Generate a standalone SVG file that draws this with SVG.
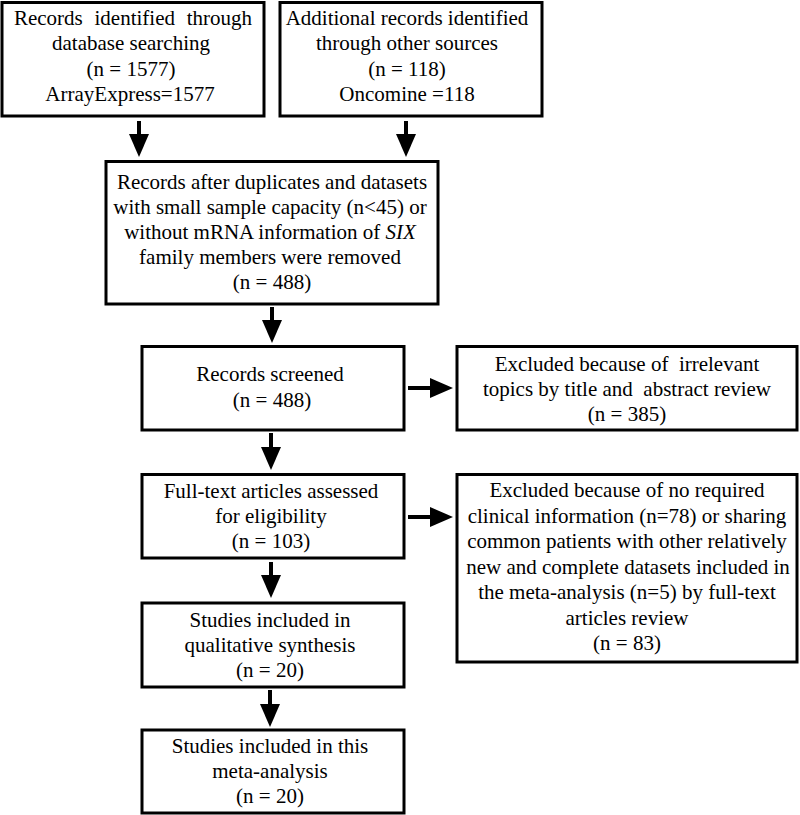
<svg xmlns="http://www.w3.org/2000/svg" width="800" height="815" viewBox="0 0 800 815">
<defs>
<style>
.box{fill:#fff;stroke:#000;stroke-width:3}
.t{font-family:"Liberation Serif","Times New Roman",serif;font-size:21px;fill:#000;text-anchor:middle}
.pre{white-space:pre}
.conn line{stroke:#000;stroke-width:4;marker-end:url(#ah)}
</style>
<marker id="ah" markerUnits="userSpaceOnUse" markerWidth="23" markerHeight="20" refX="1" refY="10" orient="auto" viewBox="0 0 23 20">
<path d="M0,0 L23,10 L0,20 Z" fill="#000"/>
</marker>
</defs>
<rect width="800" height="815" fill="#fff"/>

<g id="n1">
<rect class="box" x="2" y="2.5" width="262" height="113.5"/>
<text class="t" x="133" y="24.5" word-spacing="6.5">Records identified through</text>
<text class="t" x="131" y="50">database searching</text>
<text class="t" x="131" y="75.5">(n = 1577)</text>
<text class="t" x="130" y="101">ArrayExpress=1577</text>
</g>

<g id="n2">
<rect class="box" x="280" y="2.5" width="262" height="113.5"/>
<text class="t" x="407" y="24.5">Additional records identified</text>
<text class="t" x="407" y="50">through other sources</text>
<text class="t" x="407" y="75.5">(n = 118)</text>
<text class="t" x="407" y="101">Oncomine =118</text>
</g>

<g id="n3">
<rect class="box" x="106" y="161.5" width="332" height="142.5"/>
<text class="t" x="272" y="189">Records after duplicates and datasets</text>
<text class="t" x="270" y="213.5">with small sample capacity (n&lt;45) or</text>
<text class="t" x="270" y="239">without mRNA information of <tspan font-style="italic">SIX</tspan></text>
<text class="t" x="270" y="264">family members were removed</text>
<text class="t" x="272" y="289">(n = 488)</text>
</g>

<g id="n4">
<rect class="box" x="142" y="346.5" width="262" height="83.5"/>
<text class="t" x="270" y="381">Records screened</text>
<text class="t" x="272" y="406.5">(n = 488)</text>
</g>

<g id="n5">
<rect class="box" x="457" y="346.5" width="340" height="83.5"/>
<text class="t pre" x="627" y="371">Excluded because of  irrelevant</text>
<text class="t pre" x="627" y="395.5">topics by title and  abstract review</text>
<text class="t" x="627" y="420.5">(n = 385)</text>
</g>

<g id="n6">
<rect class="box" x="142" y="474.5" width="262" height="83.5"/>
<text class="t" x="271" y="498">Full-text articles assessed</text>
<text class="t" x="271" y="522.5">for eligibility</text>
<text class="t" x="271" y="548">(n = 103)</text>
</g>

<g id="n7">
<rect class="box" x="457" y="474.5" width="340" height="187.5"/>
<text class="t" x="627" y="497">Excluded because of no required</text>
<text class="t" x="627" y="522.5">clinical information (n=78) or sharing</text>
<text class="t" x="627" y="548">common patients with other relatively</text>
<text class="t" x="628" y="573.5">new and complete datasets included in</text>
<text class="t" x="627" y="599">the meta-analysis (n=5) by full-text</text>
<text class="t" x="627" y="624.5">articles review</text>
<text class="t" x="627" y="650">(n = 83)</text>
</g>

<g id="n8">
<rect class="box" x="142" y="603" width="262" height="84"/>
<text class="t" x="270" y="627">Studies included in</text>
<text class="t" x="270" y="652">qualitative synthesis</text>
<text class="t" x="270" y="677">(n = 20)</text>
</g>

<g id="n9">
<rect class="box" x="142" y="730" width="262" height="83"/>
<text class="t" x="270" y="753">Studies included in this</text>
<text class="t" x="270" y="778">meta-analysis</text>
<text class="t" x="270" y="803">(n = 20)</text>
</g>

<g id="connectors" class="conn">
<line x1="139" y1="121" x2="139" y2="135"/>
<line x1="406" y1="121" x2="406" y2="135"/>
<line x1="272" y1="307" x2="272" y2="321"/>
<line x1="271" y1="433" x2="271" y2="448"/>
<line x1="271" y1="562" x2="271" y2="576"/>
<line x1="270" y1="690" x2="270" y2="705"/>
<line x1="408" y1="388" x2="431" y2="388"/>
<line x1="408" y1="517" x2="431" y2="517"/>
</g>
</svg>
